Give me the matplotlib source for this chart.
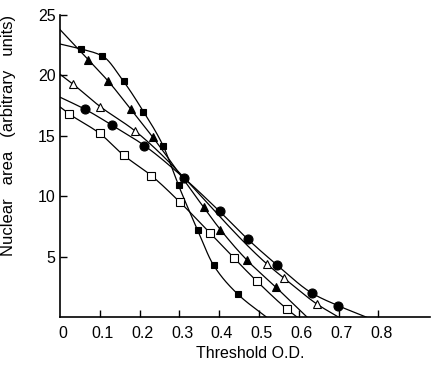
import matplotlib
matplotlib.use("Agg")
import matplotlib.pyplot as plt
import numpy as np

# marker points; y0 = value where the curve meets the y axis,
# x_end = threshold where the curve reaches zero
a_x = [0.071, 0.122, 0.178, 0.233, 0.361, 0.403, 0.469, 0.542]
a_y = [21.3, 19.5, 17.2, 14.9, 9.1, 7.25, 4.75, 2.5]
a_y0, a_x_end = 23.8, 0.621

b_x = [0.052, 0.107, 0.16, 0.21, 0.259, 0.298, 0.346, 0.386, 0.447]
b_y = [22.2, 21.6, 19.5, 17.0, 14.2, 10.9, 7.2, 4.3, 1.9]
b_y0, b_x_end = 22.6, 0.519

c_x = [0.034, 0.102, 0.189, 0.52, 0.564, 0.645]
c_y = [19.25, 17.4, 15.4, 4.4, 3.2, 1.1]
c_y0, c_x_end = 20.1, 0.70

d_x = [0.024, 0.10, 0.16, 0.23, 0.302, 0.376, 0.437, 0.494, 0.571]
d_y = [16.8, 15.2, 13.4, 11.7, 9.5, 7.0, 4.9, 3.0, 0.65]
d_y0, d_x_end = 17.4, 0.596

e_x = [0.063, 0.13, 0.212, 0.312, 0.401, 0.472, 0.546, 0.634, 0.699]
e_y = [17.2, 15.9, 14.2, 11.5, 8.76, 6.45, 4.3, 1.97, 0.95]
e_y0, e_x_end = 18.2, 0.77

x_ticks = [0.1, 0.2, 0.3, 0.4, 0.5, 0.6, 0.7, 0.8]
x_labels = ["0", "0.1", "0.2", "0.3", "0.4", "0.5", "0.6", "0.7", "0.8"]
y_ticks = [5, 10, 15, 20, 25]


def pchip(x, y, xs):
    # monotone cubic through the points, for a smooth hand-drawn look
    x = np.asarray(x, float)
    y = np.asarray(y, float)
    h = np.diff(x)
    d = np.diff(y) / h
    m = np.zeros_like(y)
    for k in range(1, len(x) - 1):
        if d[k - 1] * d[k] > 0:
            w1 = 2 * h[k] + h[k - 1]
            w2 = h[k] + 2 * h[k - 1]
            m[k] = (w1 + w2) / (w1 / d[k - 1] + w2 / d[k])
    m[0] = d[0]
    m[-1] = d[-1]
    idx = np.clip(np.searchsorted(x, xs) - 1, 0, len(h) - 1)
    t = (xs - x[idx]) / h[idx]
    h00 = 2 * t**3 - 3 * t**2 + 1
    h10 = t**3 - 2 * t**2 + t
    h01 = -2 * t**3 + 3 * t**2
    h11 = t**3 - t**2
    return (h00 * y[idx] + h10 * h[idx] * m[idx]
            + h01 * y[idx + 1] + h11 * h[idx] * m[idx + 1])


plt.rcParams["font.family"] = ["Liberation Sans", "DejaVu Sans"]

fig = plt.figure(figsize=(4.34, 3.74), dpi=100)
ax = fig.add_axes([0.138, 0.152, 0.853, 0.808])

series = [
    (a_x, a_y, a_y0, a_x_end, "^", "black", 5.5),
    (b_x, b_y, b_y0, b_x_end, "s", "black", 4.5),
    (c_x, c_y, c_y0, c_x_end, "^", "white", 5.5),
    (d_x, d_y, d_y0, d_x_end, "s", "white", 5.5),
    (e_x, e_y, e_y0, e_x_end, "o", "black", 6.5),
]
for sx, sy, y0, x_end, mk, fc, ms in series:
    lx = [0.0] + list(sx) + [x_end]
    ly = [y0] + list(sy) + [0.0]
    xs = np.linspace(0, x_end, 200)
    ax.plot(xs, pchip(lx, ly, xs), color="black", lw=0.9)
    ax.plot(sx, sy, linestyle="none", marker=mk, markersize=ms,
            markerfacecolor=fc, markeredgecolor="black", markeredgewidth=0.8)

ax.set_xlim(0, 0.93)
ax.set_ylim(0, 25)
ax.spines["top"].set_visible(False)
ax.spines["right"].set_visible(False)
ax.spines["left"].set_linewidth(1.2)
ax.spines["bottom"].set_linewidth(1.2)

ax.set_xticks(x_ticks)
ax.set_xticklabels([])
ax.set_yticks(y_ticks)
ax.set_yticklabels([str(v) for v in y_ticks])
ax.tick_params(axis="both", direction="in", length=5, width=1, labelsize=11.5)
ax.tick_params(axis="y", pad=3)
for xv, lab in zip([0.0] + x_ticks, x_labels):
    ax.text(xv + 0.007, -0.03, lab, transform=ax.get_xaxis_transform(),
            ha="center", va="top", fontsize=11.5)

ax.set_xlabel("Threshold O.D.", fontsize=11.5)
ax.xaxis.set_label_coords(0.514, -0.095)
ax.set_ylabel("Nuclear   area   (arbitrary   units)", fontsize=12)
ax.yaxis.set_label_coords(-0.118, 0.6)

fig.savefig("out.png", dpi=100)
